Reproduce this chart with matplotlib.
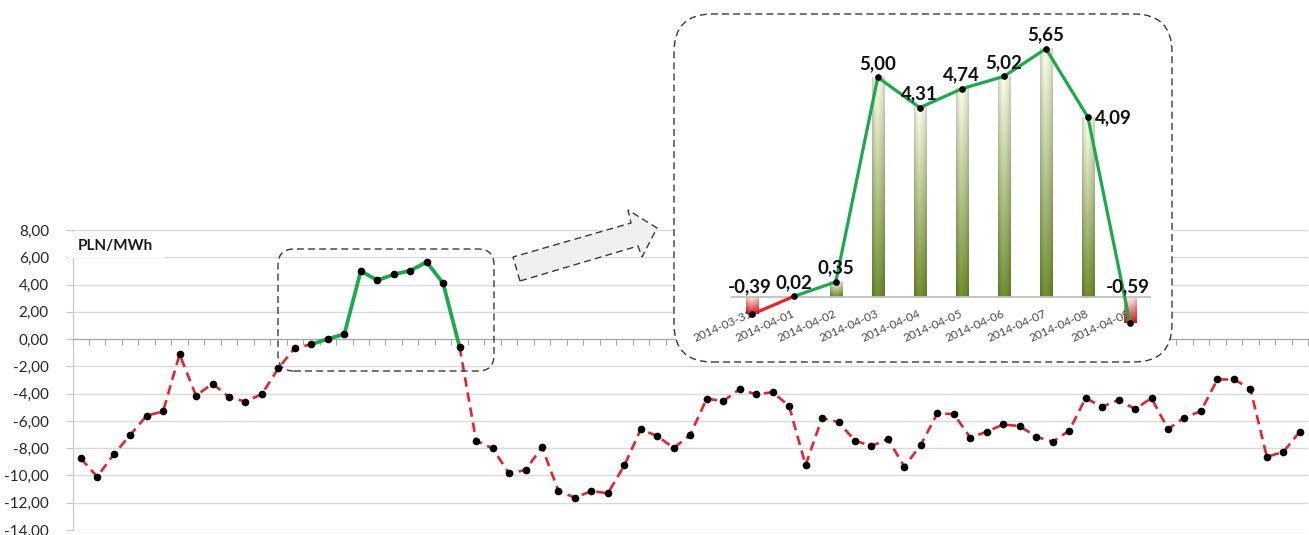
import numpy as np
import matplotlib.pyplot as plt
from matplotlib.patches import FancyBboxPatch, Polygon, Rectangle
from matplotlib.transforms import IdentityTransform
from matplotlib.ticker import FuncFormatter

plt.rcParams['font.family'] = ['Lato', 'DejaVu Sans']

# dzienny spread, PLN/MWh
prices = [-8.75, -10.09, -8.46, -7.04, -5.62, -5.30, -1.12, -4.15, -3.27, -4.25,
          -4.59, -4.03, -2.13, -0.64, -0.39, 0.02, 0.35, 5.00, 4.31, 4.74,
          5.02, 5.65, 4.09, -0.59, -7.45, -8.02, -9.85, -9.60, -7.92, -11.14,
          -11.63, -11.14, -11.31, -9.26, -6.62, -7.11, -7.99, -7.01, -4.37, -4.55,
          -3.67, -4.06, -3.89, -4.91, -9.24, -5.79, -6.09, -7.45, -7.84, -7.33,
          -9.36, -7.74, -5.45, -5.50, -7.23, -6.79, -6.26, -6.38, -7.16, -7.53,
          -6.72, -4.33, -4.96, -4.47, -5.13, -4.33, -6.60, -5.77, -5.28, -2.96,
          -2.96, -3.64, -8.63, -8.28, -6.79]

# wycinek powiekszony w ramce
hl_start = 14
hl_dates = ['2014-03-31', '2014-04-01', '2014-04-02', '2014-04-03', '2014-04-04',
            '2014-04-05', '2014-04-06', '2014-04-07', '2014-04-08', '2014-04-09']
hl_vals = prices[hl_start:hl_start + len(hl_dates)]

unit = 'PLN/MWh'

RED = '#e3262e'
GREEN = '#19aa4b'
W, H = 1309, 535


def fmt(v):
    return f"{v:.2f}".replace('.', ',')


def px(x, y):
    # wspolrzedne obrazka -> piksele ekranu
    return (x, H - y)


fig = plt.figure(figsize=(W / 100, H / 100), dpi=100)

# ---- wykres glowny ----
ax = fig.add_axes([72.5 / W, 5 / H, (1308 - 72.5) / W, 300 / H])
x = np.arange(len(prices))
y = np.array(prices)
hl_end = hl_start + len(hl_dates)

dash = (0, (3.6, 2.2))
ax.plot(x[:hl_start + 1], y[:hl_start + 1], color=RED, lw=1.9, ls=dash, zorder=3)
ax.plot(x[hl_end - 1:], y[hl_end - 1:], color=RED, lw=1.9, ls=dash, zorder=3)
ax.plot(x[hl_start:hl_end], y[hl_start:hl_end], color=GREEN, lw=2.7, zorder=4,
        solid_capstyle='round')
ax.plot(x, y, 'o', color='black', ms=4.5, zorder=5)

ax.set_xlim(-0.5, len(prices) - 0.5)
ax.set_ylim(-14, 8)
ax.set_yticks(np.arange(-14, 9, 2))
ax.yaxis.set_major_formatter(FuncFormatter(lambda v, _: fmt(v)))
ax.set_xticks(np.arange(-0.5, len(prices), 1))
ax.set_xticklabels([])
ax.yaxis.grid(True, color='#dadada', lw=1)
ax.set_axisbelow(True)
for s in ['top', 'right']:
    ax.spines[s].set_visible(False)
ax.spines['left'].set_color('#c8c8c8')
ax.spines['bottom'].set_position(('data', 0))
ax.spines['bottom'].set_color('#a6a6a6')
ax.tick_params(axis='y', length=5, color='#c8c8c8', pad=12, labelsize=11,
               labelcolor='#262626')
ax.tick_params(axis='x', length=4, color='#a6a6a6', direction='out')

ax.add_patch(Rectangle((-0.004, 0.908), 0.078, 0.085, transform=ax.transAxes,
                       facecolor='white', edgecolor='none', zorder=3, clip_on=False))
ax.text(0.0045, 0.948, unit, transform=ax.transAxes, fontsize=11, fontweight='bold',
        color='#1a1a1a', ha='left', va='center', zorder=4)

# ramka wokol wycinka na wykresie glownym
x0, y0 = px(278, 371)
fig.add_artist(FancyBboxPatch((x0, y0), 216, 122, boxstyle='round,pad=0,rounding_size=16',
                              transform=IdentityTransform(), fill=False, ls=(0, (5, 3)),
                              ec='#3a3a3a', lw=1, zorder=1))

# strzalka
arrow_pts = [px(520, 281), px(513, 257), px(631, 223), px(628, 210),
             px(657, 228), px(642, 257), px(638, 246)]
fig.add_artist(Polygon(arrow_pts, closed=True, transform=IdentityTransform(),
                       facecolor='#f0f0f0', ec='#3a3a3a', ls=(0, (5, 3)), lw=1, zorder=1))

# ramka powiekszenia
x0, y0 = px(674, 362)
fig.add_artist(FancyBboxPatch((x0, y0), 498, 348, boxstyle='round,pad=0,rounding_size=38',
                              transform=IdentityTransform(), facecolor='white',
                              ls=(0, (5, 3)), ec='#3a3a3a', lw=1, zorder=1))

# ---- powiekszenie ----
ia = fig.add_axes([730.7 / W, (H - 341.3) / H, 420.3 / W, 330 / H], zorder=2)
ia.patch.set_alpha(0)
ia.axis('off')

bw = 0.29
rows = np.linspace(0, 1, 80)[:, None, None]
u = np.linspace(-1, 1, 24)[None, :, None]
shade = 1 - 0.16 * u ** 2 + 0.04 * (u < 0) * (1 - u ** 2)
g_bot = np.array([0.43, 0.55, 0.18])
g_top = np.array([0.96, 0.97, 0.89])
r_bot = np.array([0.88, 0.08, 0.10])
r_top = np.array([1.0, 0.93, 0.93])
for i, v in enumerate(hl_vals):
    if v >= 0:
        img = g_bot + (g_top - g_bot) * rows
        ext = (i - bw / 2, i + bw / 2, 0, v)
    else:
        img = r_bot + (r_top - r_bot) * rows
        ext = (i - bw / 2, i + bw / 2, v, 0)
    img = np.clip(img * shade, 0, 1)
    ia.imshow(img, extent=ext, origin='lower', aspect='auto', interpolation='bilinear',
              zorder=1)

ia.axhline(0, color='#c0c0c0', lw=1.3, zorder=1.5)

xi = np.arange(len(hl_vals))
for i in range(len(hl_vals) - 1):
    c = RED if hl_vals[i] < 0 else GREEN
    ia.plot(xi[i:i + 2], hl_vals[i:i + 2], color=c, lw=2.3, zorder=3,
            solid_capstyle='round')
ia.plot(xi, hl_vals, 'o', color='black', ms=3.8, zorder=4)

peak_drop = len(hl_vals) - 2
lbl = dict(fontsize=13.5, fontweight='bold', color='#111111', zorder=5)
for i, v in enumerate(hl_vals):
    if v < 0:
        ia.annotate(fmt(v), (i, 0), xytext=(-2, 11), textcoords='offset pixels',
                    ha='center', va='center', **lbl)
    elif i == peak_drop:
        ia.annotate(fmt(v), (i, v), xytext=(7, 0), textcoords='offset pixels',
                    ha='left', va='center', **lbl)
    else:
        ia.annotate(fmt(v), (i, v), xytext=(0, 14), textcoords='offset pixels',
                    ha='center', va='center', **lbl)

for i, d in enumerate(hl_dates):
    ia.annotate(d, (i, 0), xytext=(0, -16), textcoords='offset pixels', rotation=24,
                rotation_mode='anchor', ha='right', va='center', fontsize=8.5,
                color='#4a4a4a', zorder=2)

ia.set_xlim(-0.5, len(hl_vals) - 0.5)
ia.set_ylim(-1, 6.5)

fig.savefig('out.png', dpi=100)
